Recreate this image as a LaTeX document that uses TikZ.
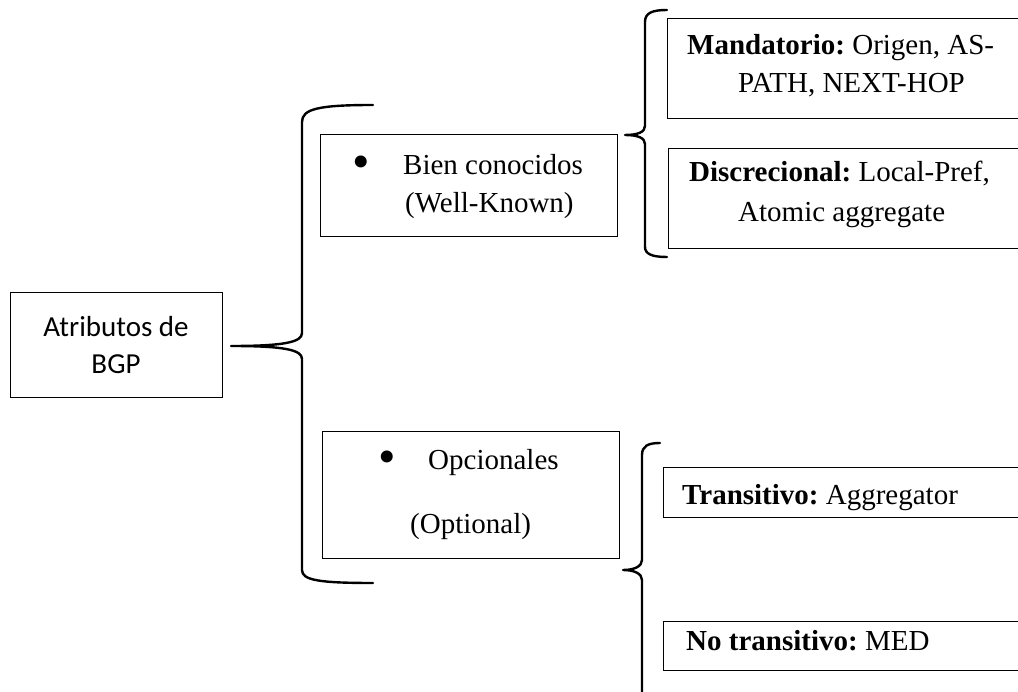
\documentclass[tikz,border=0pt]{standalone}
\usepackage{fontspec}
\setmainfont{Liberation Serif}
\newfontfamily\calfont{Carlito}
\frenchspacing
\begin{document}
\begin{tikzpicture}[x=1pt,y=-1pt,
  box/.style={draw=black, line width=1.2pt, inner sep=0pt, anchor=north west},
  txt/.style={inner sep=0pt, anchor=base west, font=\frenchspacing\fontsize{29}{35}\selectfont},
  ctxt/.style={inner sep=0pt, anchor=base, font=\calfont\fontsize{29}{35}\selectfont},
  bul/.style={inner sep=0pt, anchor=center, font=\fontsize{50}{50}\selectfont},
  bracepath/.style={line width=2.4pt, line join=round, line cap=round},
]
\useasboundingbox (0,0) rectangle (1018,692);
\fill[white] (0,0) rectangle (1018,692);
\clip (0,0) rectangle (1018,692);

% left box
\node[box, minimum width=212pt, minimum height=105pt] (attr) at (10,292) {};
\node[ctxt] (attr1) at (116,337) {Atributos de};
\node[ctxt] (attr2) at (116,374) {BGP};

% well-known
\node[box, minimum width=297pt, minimum height=102pt] (bien) at (320,134) {};
\node[bul] (bienb) at (361,167) {•};
\node[txt] (bien1) at (403,175) {Bien conocidos};
\node[txt] (bien2) at (405,213) {(Well-Known)};

% optional
\node[box, minimum width=297pt, minimum height=127pt] (opc) at (322,431) {};
\node[bul] (opcb) at (387,462) {•};
\node[txt] (opc1) at (428,470) {Opcionales};
\node[txt] (opc2) at (410,533) {(Optional)};

% right boxes
\node[box, minimum width=500pt, minimum height=100pt] (mand) at (667,18) {};
\node[txt] (mand1) at (687,55) {\textbf{Mandatorio:} Origen, AS-};
\node[txt] (mand2) at (738,93) {PATH, NEXT-HOP};

\node[box, minimum width=500pt, minimum height=100pt] (disc) at (668,148) {};
\node[txt] (disc1) at (689,182) {\textbf{Discrecional:} Local-Pref,};
\node[txt] (disc2) at (738,222) {Atomic aggregate};

\node[box, minimum width=500pt, minimum height=50pt] (trans) at (663,467) {};
\node[txt] (trans1) at (682,504) {\textbf{Transitivo:} Aggregator};

\node[box, minimum width=500pt, minimum height=49pt] (notr) at (663,621) {};
\node[txt] (notr1) at (686,650) {\textbf{No transitivo:} MED};

% braces
\coordinate (bigtop) at (373,105);
\coordinate (bigtip) at (231,346);
\coordinate (bigbot) at (373,583);
\draw[bracepath] (bigtop) .. controls (318,105) and (302,109) .. (302,122) -- (302,333)
  .. controls (302,342) and (285,346) .. (bigtip)
  .. controls (285,346) and (302,350) .. (302,359) -- (302,570)
  .. controls (302,580) and (318,583) .. (bigbot);

\coordinate (rttop) at (667,10);
\coordinate (rttip) at (625,135);
\coordinate (rtbot) at (667,257);
\draw[bracepath] (rttop) .. controls (652,10) and (645,13) .. (645,22) -- (645,126)
  .. controls (645,132) and (638,135) .. (rttip)
  .. controls (638,135) and (645,138) .. (645,144) -- (645,247)
  .. controls (645,254) and (652,257) .. (rtbot);

\coordinate (rbtop) at (660,443);
\coordinate (rbtip) at (623,570);
\coordinate (rbbot) at (642,700);
\draw[bracepath] (rbtop) .. controls (648,443) and (642,446) .. (642,455) -- (642,560)
  .. controls (642,566) and (635,570) .. (rbtip)
  .. controls (635,570) and (642,574) .. (642,580) -- (rbbot);
\end{tikzpicture}
\end{document}
